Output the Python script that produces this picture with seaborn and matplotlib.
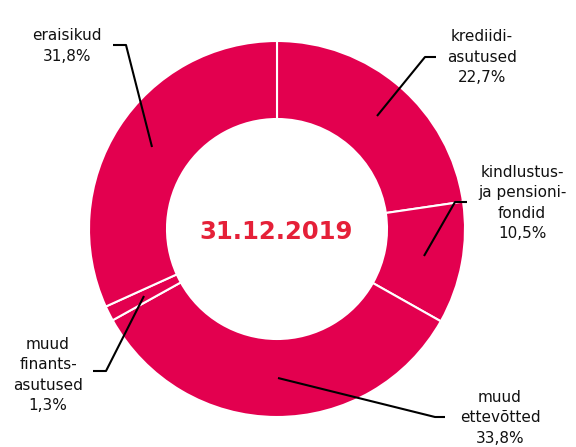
import matplotlib
matplotlib.use("Agg")
import matplotlib.pyplot as plt
import seaborn as sns

sns.set_theme(style="white")
plt.rcParams['font.family'] = ['DejaVu Sans']

# Data
categories = ["krediidi-\nasutused", "kindlustus-\nja pensioni-\nfondid", "muud\nettevõtted",
              "muud\nfinants-\nasutused", "eraisikud"]
values = [22.7, 10.5, 33.8, 1.3, 31.8]
pct_labels = ["22,7%", "10,5%", "33,8%", "1,3%", "31,8%"]
center_title = "31.12.2019"

# Layout (pixel coordinates)
ring_color = "#E3004F"
cx, cy, R, r = 277, 229, 188, 110
label_pos = [(482, 57), (522, 203), (500, 418), (48, 375), (67, 46)]
leader = [
    [(436, 57), (425, 57), (377, 116)],
    [(467, 202), (455, 202), (424, 256)],
    [(445, 417), (435, 417), (278, 378)],
    [(93, 371), (106, 371), (144, 296)],
    [(113, 45), (126, 45), (152, 147)],
]

fig = plt.figure(figsize=(5.76, 4.47), dpi=100)
ax = fig.add_axes([0, 0, 1, 1])

# y axis is inverted (pixel coords), so startangle=-90 points up on screen
# and counterclock=True runs clockwise on screen
ax.pie(values, center=(cx, cy), radius=R, startangle=-90, counterclock=True,
       colors=[ring_color] * len(values),
       wedgeprops=dict(width=R - r, edgecolor="white", linewidth=1.5))
ax.set_xlim(0, 576)
ax.set_ylim(447, 0)
ax.set_aspect("equal")
ax.axis("off")

for pts in leader:
    xs, ys = zip(*pts)
    ax.plot(xs, ys, color="black", lw=1.5, solid_capstyle="butt")

for (x, y), cat, pct in zip(label_pos, categories, pct_labels):
    ax.text(x, y, cat + "\n" + pct, ha="center", va="center", fontsize=11,
            color="#111111", linespacing=1.42)

ax.text(cx - 1, 232, center_title, ha="center", va="center", fontsize=17.5,
        fontweight="bold", color="#E52038")

fig.savefig("out.png", dpi=100)
